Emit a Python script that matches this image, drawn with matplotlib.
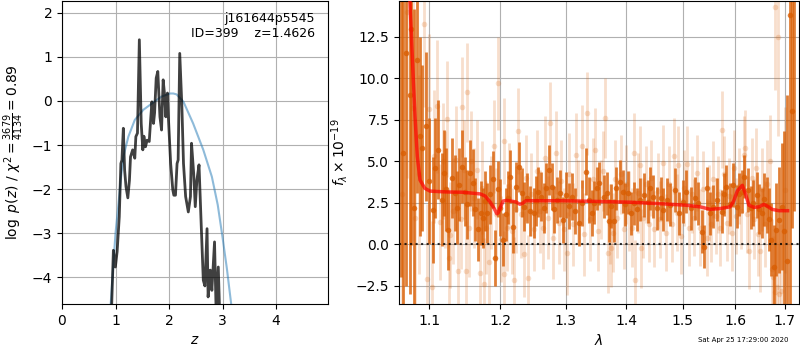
import matplotlib
matplotlib.use('Agg')
import matplotlib.pyplot as plt
from matplotlib.ticker import NullLocator, FixedLocator, FixedFormatter

# left panel: log p(z) on the fine grid, and the prior curve
z_fine = [0.90, 0.93, 0.96, 0.997, 1.03, 1.07, 1.10, 1.12, 1.146, 1.17, 1.196, 1.23,
          1.26, 1.28, 1.32, 1.36, 1.38, 1.41, 1.445, 1.48, 1.51, 1.53, 1.56, 1.59,
          1.63, 1.66, 1.68, 1.71, 1.73, 1.76, 1.79, 1.83, 1.86, 1.89, 1.92, 1.94,
          1.97, 1.99, 2.03, 2.07, 2.09, 2.12, 2.15, 2.17, 2.20, 2.24, 2.27, 2.31,
          2.36, 2.40, 2.42, 2.46, 2.49, 2.52, 2.56, 2.60, 2.64, 2.67, 2.71, 2.73,
          2.77, 2.80, 2.85, 2.88, 2.92, 2.95]
logp_fine = [-5.5, -4.57, -3.39, -3.77, -3.42, -2.63, -1.42, -1.34, -0.62, -1.57, -1.95, -2.2,
             -1.8, -1.27, -1.11, -1.30, -0.81, -0.73, 1.39, -0.51, -1.11, -0.80, -1.04, -0.89,
             -0.92, -0.36, -0.02, -0.51, -0.27, 0.52, 0.67, -0.36, -0.66, 0.48, 0.10, -0.36,
             0.18, -0.43, -1.42, -2.02, -2.14, -2.14, -1.42, -1.34, 1.08, -0.13, -1.42, -2.17,
             -2.52, -2.17, -0.96, -1.64, -2.40, -1.80, -1.45, -2.78, -4.07, -4.2, -2.9, -4.45,
             -3.84, -4.30, -3.2, -4.8, -3.77, -5.0]

z_prior = [0.88, 0.91, 0.96, 1.00, 1.05, 1.10, 1.15, 1.24, 1.36, 1.52, 1.71, 1.86, 2.02,
           2.08, 2.14, 2.27, 2.45, 2.64, 2.80, 2.91, 3.00, 3.08, 3.14, 3.18, 3.22]
logp_prior = [-5.3, -4.61, -3.7, -3.0, -2.4, -1.75, -1.25, -0.81, -0.43, -0.2, -0.03, 0.1, 0.17,
              0.17, 0.15, -0.02, -0.51, -1.11, -1.72, -2.36, -3.1, -3.8, -4.4, -4.8, -5.3]

# right panel: binned spectrum (dark)
lam_dark = [1.0625, 1.0655, 1.0695, 1.074, 1.0761, 1.0796, 1.084, 1.087, 1.0906, 1.095,
            1.100, 1.105, 1.108, 1.112, 1.117, 1.120, 1.123, 1.126, 1.131, 1.135,
            1.138, 1.141, 1.1445, 1.149, 1.152, 1.156, 1.161, 1.164, 1.167, 1.1715,
            1.1745, 1.178, 1.181, 1.185, 1.189, 1.192, 1.197, 1.200, 1.204, 1.208,
            1.211, 1.215, 1.219, 1.223, 1.228, 1.232, 1.236, 1.240, 1.2445, 1.250,
            1.254, 1.257, 1.262, 1.266, 1.269, 1.273, 1.278, 1.282, 1.286, 1.291,
            1.295, 1.301, 1.305, 1.310, 1.315, 1.321, 1.327, 1.333, 1.337, 1.342,
            1.346, 1.351, 1.355, 1.362, 1.367, 1.371, 1.375, 1.379, 1.3827, 1.389,
            1.394, 1.398, 1.403, 1.408, 1.414, 1.419, 1.424, 1.4315, 1.4375, 1.4415,
            1.447, 1.453, 1.4605, 1.465, 1.471, 1.478, 1.486, 1.494, 1.501, 1.507,
            1.515, 1.523, 1.529, 1.536, 1.540, 1.545, 1.551, 1.558, 1.565, 1.574,
            1.579, 1.583, 1.589, 1.595, 1.603, 1.608, 1.613, 1.618, 1.626, 1.631,
            1.636, 1.643, 1.648, 1.653, 1.658, 1.663, 1.667, 1.671, 1.677, 1.682,
            1.689, 1.694, 1.699, 1.704, 1.711, 1.716, 1.720]
flux_dark = [16.0, 5.5, 11.5, 9.0, 12.95, 2.18, 11.1, 6.5, 5.8, 7.1,
             3.8, 2.07, 4.6, 5.7, 2.67, 4.28, 3.3, 0.86, 3.99, 3.08,
             2.2, 3.57, 4.67, 3.17, 2.4, 4.28, 3.71, 2.1, 0.9, 1.88,
             1.57, 2.6, 1.88, 3.0, 3.91, -0.84, 3.31, 2.2, 0.26, 1.8,
             2.8, 4.07, 1.06, 3.47, 4.67, 3.11, 2.27, 2.8, 2.0, 1.87,
             2.6, 3.17, 2.87, 2.2, 3.4, 4.48, 3.47, 2.1, 2.67, 3.07,
             1.46, 2.97, 2.3, 2.87, 2.0, 1.27, 2.47, 4.37, 2.67, 1.87,
             2.5, 3.37, 3.67, 2.87, 3.07, 1.42, 2.3, 1.42, 3.37, 3.77,
             3.17, 2.4, 3.11, 1.87, 2.47, 2.1, 2.67, 2.97, 2.57, 3.37,
             2.87, 2.17, 2.77, 2.07, 2.67, 2.37, 3.27, 1.87, 2.57, 3.17,
             2.17, 2.77, 2.47, 0.76, -0.14, 3.37, 1.87, 2.27, 2.67, 1.97,
             3.0, 3.47, 2.4, 3.57, 2.27, 3.0, 3.17, 4.07, 3.27, 2.2,
             2.47, 2.97, 2.1, 1.87, 2.7, 2.37, 1.5, 0.26, -1.35, 0.86,
             1.46, 2.27, 0.8, -1.0, 13.8, 8.0, 20.0]
err_dark = [18, 14, 14, 12, 13, 12, 8, 6, 5, 4.5,
            3.8, 3.2, 3.0, 3.0, 2.8, 2.6, 2.5, 2.4, 2.4, 2.3,
            2.2, 2.2, 2.2, 2.1, 2.1, 2.0, 2.0, 1.9, 1.9, 1.9,
            1.8, 1.8, 1.8, 1.8, 1.7, 1.7, 1.7, 1.7, 1.6, 1.6,
            1.6, 1.6, 1.6, 1.5, 1.5, 1.5, 1.5, 1.5, 1.5, 1.5,
            1.5, 1.5, 1.5, 1.5, 1.5, 1.5, 1.4, 1.4, 1.4, 1.4,
            1.4, 1.4, 1.4, 1.4, 1.4, 1.4, 1.4, 1.4, 1.4, 1.4,
            1.3, 1.3, 1.3, 1.3, 1.3, 1.3, 1.3, 1.3, 1.3, 1.3,
            1.3, 1.3, 1.3, 1.3, 1.3, 1.3, 1.3, 1.3, 1.3, 1.3,
            1.3, 1.3, 1.3, 1.3, 1.3, 1.3, 1.3, 1.3, 1.3, 1.3,
            1.3, 1.3, 1.3, 1.3, 1.3, 1.3, 1.3, 1.3, 1.3, 1.3,
            1.3, 1.3, 1.3, 1.3, 1.3, 1.3, 1.3, 1.3, 1.3, 1.3,
            1.4, 1.4, 1.5, 1.5, 1.6, 1.7, 1.9, 2.2, 2.5, 2.8,
            3.2, 3.8, 6, 10, 18, 7, 18]

# right panel: unbinned spectrum (light)
lam_light = [1.064, 1.071, 1.078, 1.081, 1.086, 1.093, 1.097, 1.100, 1.104, 1.106,
             1.110, 1.114, 1.118, 1.121, 1.124, 1.127, 1.129, 1.133, 1.137, 1.140,
             1.143, 1.145, 1.148, 1.150, 1.152, 1.155, 1.158, 1.162, 1.166, 1.170,
             1.173, 1.176, 1.179, 1.184, 1.187, 1.191, 1.194, 1.197, 1.201, 1.205,
             1.206, 1.210, 1.213, 1.217, 1.221, 1.224, 1.227, 1.231, 1.235, 1.238,
             1.241, 1.246, 1.251, 1.255, 1.260, 1.264, 1.268, 1.272, 1.275, 1.280,
             1.285, 1.289, 1.293, 1.297, 1.302, 1.306, 1.311, 1.316, 1.320, 1.326,
             1.330, 1.335, 1.340, 1.344, 1.347, 1.352, 1.357, 1.361, 1.365, 1.369,
             1.373, 1.375, 1.378, 1.381, 1.385, 1.391, 1.396, 1.400, 1.405, 1.410,
             1.414, 1.416, 1.420, 1.424, 1.426, 1.430, 1.434, 1.439, 1.444, 1.449,
             1.455, 1.460, 1.465, 1.470, 1.475, 1.480, 1.484, 1.489, 1.492, 1.497,
             1.502, 1.508, 1.512, 1.517, 1.522, 1.527, 1.532, 1.538, 1.545, 1.549,
             1.553, 1.557, 1.562, 1.567, 1.571, 1.575, 1.579, 1.584, 1.588, 1.593,
             1.598, 1.602, 1.607, 1.612, 1.617, 1.620, 1.624, 1.628, 1.633, 1.637,
             1.641, 1.646, 1.649, 1.654, 1.659, 1.664, 1.670, 1.674, 1.675, 1.679,
             1.680, 1.683, 1.687, 1.688, 1.692, 1.700]
flux_light = [3.0, 14.0, 8.2, 1.57, 4.2, 13.25, -2.1, 8.15, -2.6, 5.3,
              8.3, 1.36, 5.0, 3.3, 7.55, -0.8, 0.56, 2.0, 5.1, -1.6,
              1.5, 8.25, 4.5, -1.6, 9.15, 1.0, 5.0, 2.8, 4.5, -1.75,
              3.4, -2.4, 1.0, -1.05, 2.5, 5.9, 1.8, 9.7, 0.3, -1.8,
              6.2, 1.0, 3.5, 0.8, -2.15, 2.1, 6.8, 1.8, -0.6, 4.0,
              -2.05, 3.0, 0.9, 4.4, 2.0, 1.0, 5.2, 1.6, 7.3, 0.4,
              5.5, 1.3, 3.8, 0.9, -0.55, 4.2, 1.2, 5.4, 2.6, 5.9,
              0.6, 7.9, 1.5, 3.9, 5.7, 0.8, 2.7, 4.4, 7.6, -0.55,
              1.2, -0.2, 0.7, 3.9, 1.6, 4.2, 0.9, 3.6, 2.0, 1.0,
              5.5, -2.15, 3.1, 4.75, -0.25, 1.6, 3.6, 1.2, 4.0, 0.9,
              3.2, 1.5, 4.9, 0.7, 3.6, 1.2, 5.3, 1.9, 4.8, 0.5,
              3.4, 4.85, 1.0, 3.0, 1.6, 4.3, 1.0, 3.3, 0.4, 2.5,
              1.2, 3.9, 1.7, 3.0, 1.0, 6.9, 4.2, 1.3, 2.9, 0.7,
              4.6, 1.7, 3.5, 2.0, 5.4, 5.78, 1.8, -0.4, 4.0, 1.5,
              4.6, 0.6, -0.4, 3.3, 1.2, 3.6, 5.0, -1.5, -2.0, 14.3,
              -2.9, -2.6, 12.5, -3.0, -2.8, 3.27]
err_light = [12, 10, 8, 6, 6, 5, 4.5, 4.5, 4, 4,
             4, 3.5, 3.5, 3.5, 3.5, 3.2, 3.2, 3.2, 3.2, 3.0,
             3.0, 3.0, 3.0, 3.0, 3.0, 3.0, 3.0, 3.0, 3.0, 2.8,
             2.8, 2.8, 2.8, 2.8, 2.8, 2.8, 2.8, 2.8, 2.6, 2.6,
             2.6, 2.6, 2.6, 2.6, 2.6, 2.6, 2.6, 2.6, 2.6, 2.6,
             2.6, 2.5, 2.5, 2.5, 2.5, 2.5, 2.5, 2.5, 2.5, 2.5,
             2.5, 2.5, 2.5, 2.5, 2.5, 2.5, 2.5, 2.5, 2.5, 2.5,
             2.5, 2.5, 2.5, 2.5, 2.5, 2.4, 2.4, 2.4, 2.4, 2.4,
             2.4, 2.4, 2.4, 2.4, 2.4, 2.4, 2.4, 2.4, 2.4, 2.4,
             2.4, 2.4, 2.4, 2.4, 2.4, 2.4, 2.3, 2.3, 2.3, 2.3,
             2.3, 2.3, 2.3, 2.3, 2.3, 2.3, 2.3, 2.3, 2.3, 2.3,
             2.3, 2.3, 2.3, 2.3, 2.3, 2.3, 2.3, 2.3, 2.3, 2.3,
             2.3, 2.3, 2.3, 2.3, 2.3, 2.3, 2.3, 2.3, 2.3, 2.3,
             2.3, 2.3, 2.3, 2.3, 2.3, 2.3, 2.3, 2.3, 2.4, 2.4,
             2.4, 2.5, 2.5, 2.5, 2.6, 2.7, 2.8, 3.0, 2.5, 5,
             3.0, 3.5, 6, 3.0, 4, 5]

# best-fit model
lam_model = [1.072, 1.0744, 1.078, 1.081, 1.084, 1.0876, 1.094, 1.101, 1.123, 1.146,
             1.171, 1.178, 1.185, 1.191, 1.195, 1.197, 1.201, 1.204, 1.209, 1.216,
             1.223, 1.229, 1.233, 1.238, 1.253, 1.295, 1.348, 1.407, 1.466, 1.506,
             1.533, 1.552, 1.571, 1.590, 1.597, 1.604, 1.614, 1.620, 1.627, 1.637,
             1.647, 1.657, 1.664, 1.674, 1.688, 1.706]
flux_model = [17.0, 14.5, 10.7, 7.7, 5.3, 3.87, 3.37, 3.2, 3.15, 3.13,
              3.03, 2.9, 2.55, 2.15, 1.83, 1.9, 2.3, 2.6, 2.64, 2.6,
              2.55, 2.41, 2.46, 2.62, 2.62, 2.62, 2.58, 2.53, 2.43, 2.35,
              2.25, 2.1, 2.15, 2.25, 2.6, 3.2, 3.55, 3.05, 2.35, 2.22,
              2.25, 2.4, 2.3, 2.1, 2.02, 2.02]

obj_name = 'j161644p5545'
obj_id = 399
z_best = 1.4626
stamp = 'Sat Apr 25 17:29:00 2020'

fig = plt.figure(figsize=(8, 3.5), dpi=100)

# ---- p(z) panel
ax = fig.add_axes([62/800, 46/350, 266/800, 303/350])
ax.plot(z_prior, logp_prior, color='tab:blue', alpha=0.5, lw=1.5)
ax.plot(z_fine, logp_fine, color='k', alpha=0.75, lw=2)
ax.set_xlim(0, 4.97)
ax.set_ylim(-4.61, 2.27)
ax.set_xticks([0, 1, 2, 3, 4])
ax.set_yticks([-4, -3, -2, -1, 0, 1, 2])
ax.grid()
ax.set_xlabel('$z$')
ax.set_ylabel(r'$\log\ p(z)$ / $\chi^2=\frac{3679}{4134}=0.89$')
ax.text(0.95, 0.965, '{0}\nID={1}    z={2:.4f}'.format(obj_name, obj_id, z_best),
        ha='right', va='top', transform=ax.transAxes, fontsize=9)

# ---- spectrum panel
ax2 = fig.add_axes([399/800, 46/350, 400/800, 303/350])
col = (0.85, 0.37, 0.01)
ax2.errorbar(lam_light, flux_light, yerr=err_light, fmt='o', color=col, alpha=0.2,
             ms=4, elinewidth=2, mew=0)
ax2.errorbar(lam_dark, flux_dark, yerr=err_dark, fmt='o', color=col, alpha=0.8,
             ms=4, elinewidth=2, mew=0)
ax2.plot(lam_model, flux_model, color='r', alpha=0.7, lw=2.5, zorder=10)
ax2.plot([1.06, 1.73], [0, 0], 'k:', lw=1.5, alpha=0.8, zorder=11)
ax2.set_xscale('log')
ax2.set_xlim(1.06, 1.73)
ax2.set_ylim(-3.6, 14.65)
xt = [1.1, 1.2, 1.3, 1.4, 1.5, 1.6, 1.7]
ax2.xaxis.set_major_locator(FixedLocator(xt))
ax2.xaxis.set_major_formatter(FixedFormatter(['{0:.1f}'.format(v) for v in xt]))
ax2.xaxis.set_minor_locator(NullLocator())
ax2.set_yticks([-2.5, 0, 2.5, 5, 7.5, 10, 12.5])
ax2.grid()
ax2.set_xlabel(r'$\lambda$')
ax2.set_ylabel(r'$f_\lambda\times10^{-19}$')

fig.text(789/800, 10/350, stamp, ha='right', va='center', fontsize=5)

fig.savefig('out.png', dpi=100)
